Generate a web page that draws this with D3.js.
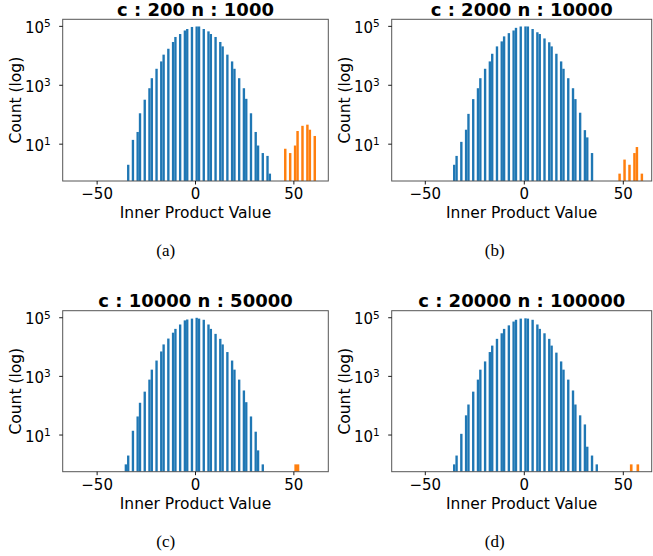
<!DOCTYPE html>
<html>
<head>
<meta charset="utf-8">
<script src="https://cdn.jsdelivr.net/npm/d3@7"></script>
<style>
  html, body { margin: 0; padding: 0; background: #fff; }
  svg { display: block; }
  text { font-family: "DejaVu Sans", sans-serif; fill: #000; }
</style>
</head>
<body>
<svg id="chart" width="653" height="556"></svg>
<script>
// ---------- data ----------
const panelTitles = ["c : 200 n : 1000", "c : 2000 n : 10000", "c : 10000 n : 50000", "c : 20000 n : 100000"];
const captions = ["(a)", "(b)", "(c)", "(d)"];
const xTickValues = [-50, 0, 50];
const yTickValues = [10, 1000, 100000];
const yTickExponents = ["1", "3", "5"];

// blue histogram: inner-product values (even integers) and counts
const aBlueValues = [-34,-32,-30,-28,-26,-24,-22,-20,-18,-16,-14,-12,-10,-8,-6,-4,-2,0,2,4,6,8,10,12,14,16,18,20,22,24,26,28,30,32,34,36,38];
const aBlueCounts = [2,14,26,112,324,794,1738,3631,6457,10965,17378,29512,43652,54954,72444,81283,95499,99000,99000,81283,67608,54954,43652,29512,20893,10965,6457,3631,1738,794,347,112,26,9,5,4,1];

const bBlueValues = [-36,-34,-32,-30,-28,-26,-24,-22,-20,-18,-16,-14,-12,-10,-8,-6,-4,-2,0,2,4,6,8,10,12,14,16,18,20,22,24,26,28,30,32,34];
const bBlueCounts = [2,4,12,31,107,339,794,1738,3631,6457,11749,20893,30903,45709,58884,72444,89125,99000,99500,99000,81283,63096,54954,38905,28840,20893,11749,6457,3631,1738,794,339,117,30,17,5];

const cBlueValues = [-36,-34,-32,-30,-28,-26,-24,-22,-20,-18,-16,-14,-12,-10,-8,-6,-4,-2,0,2,4,6,8,10,12,14,16,18,20,22,24,26,28,30,32,34];
const cBlueCounts = [1,2,14,43,126,302,776,1698,3467,7079,12303,19498,30903,41687,58884,81283,87096,93325,99500,93325,85114,58884,41687,28184,19055,12303,6761,3467,1698,776,331,132,43,13,3,1];

const dBlueValues = [-36,-34,-32,-30,-28,-26,-24,-22,-20,-18,-16,-14,-12,-10,-8,-6,-4,-2,0,2,4,6,8,10,12,14,16,18,20,22,24,26,28,30,32,34,36];
const dBlueCounts = [1,2,11,47,110,302,776,1698,3236,6761,11220,19055,29512,41687,54954,74131,85114,93325,95499,93325,85114,58884,41687,29512,19055,11220,6457,3236,1698,776,331,110,47,23,4,2,1];

// orange histogram: bin left edges and counts
const aOrangeEdges = [45, 47.5, 50, 51.25, 53.75, 56.25, 57.5, 60];
const aOrangeCounts = [7, 5, 9, 28, 42, 46, 31, 19];
const bOrangeEdges = [47.5, 50, 52.5, 55, 56.25, 58.75];
const bOrangeCounts = [1, 3, 2, 5, 8, 1];
const cOrangeEdges = [50.25];
const cOrangeCounts = [1];
const dOrangeEdges = [53.33, 56.67];
const dOrangeCounts = [1, 1];

const blueBinStart = -60, blueBinWidth = 1.2;
const orangeBinWidths = [1.25, 1.25, 2.5, 1.333];

// ---------- layout ----------
const blue = "#1f77b4", orange = "#ff7f0e";
const spineColor = "#555";
const layouts = [
  {left: 62.7,  right: 328.3, top: 19.3,  bottom: 181,   xDomain: [-67.5, 67.5]},
  {left: 391.7, right: 651.7, top: 19.3,  bottom: 181,   xDomain: [-66.97, 64.34]},
  {left: 62.7,  right: 328.3, top: 310.7, bottom: 471.7, xDomain: [-67.5, 67.5]},
  {left: 391.7, right: 651.7, top: 310.7, bottom: 471.7, xDomain: [-66.97, 64.34]}
];
const blueSets = [[aBlueValues, aBlueCounts], [bBlueValues, bBlueCounts], [cBlueValues, cBlueCounts], [dBlueValues, dBlueCounts]];
const orangeSets = [[aOrangeEdges, aOrangeCounts], [bOrangeEdges, bOrangeCounts], [cOrangeEdges, cOrangeCounts], [dOrangeEdges, dOrangeCounts]];

const svg = d3.select("#chart");
svg.append("rect").attr("width", 653).attr("height", 556).attr("fill", "#fff");

layouts.forEach((L, i) => {
  const g = svg.append("g");
  const x = d3.scaleLinear().domain(L.xDomain).range([L.left, L.right]);
  const y = d3.scaleLog().domain([Math.pow(10, -0.25), Math.pow(10, 5.24)]).range([L.bottom, L.top]);

  // blue bars (binned)
  const [vals, cnts] = blueSets[i];
  const blueBars = vals.map((v, j) => {
    const k = Math.floor((v - blueBinStart) / blueBinWidth + 1e-6);
    const lo = blueBinStart + k * blueBinWidth;
    return {lo: lo, hi: lo + blueBinWidth, c: cnts[j]};
  });
  g.selectAll("rect.blue").data(blueBars).enter().append("rect")
    .attr("class", "blue")
    .attr("x", d => x(d.lo))
    .attr("width", d => x(d.hi) - x(d.lo))
    .attr("y", d => y(d.c))
    .attr("height", d => L.bottom - y(d.c))
    .attr("fill", blue);

  // orange bars
  const [oe, oc] = orangeSets[i];
  const ow = orangeBinWidths[i];
  const orangeBars = oe.map((e, j) => ({lo: e, hi: e + ow, c: oc[j]}));
  g.selectAll("rect.orange").data(orangeBars).enter().append("rect")
    .attr("class", "orange")
    .attr("x", d => x(d.lo))
    .attr("width", d => x(d.hi) - x(d.lo))
    .attr("y", d => y(d.c))
    .attr("height", d => L.bottom - y(d.c))
    .attr("fill", orange);

  // frame
  g.append("rect")
    .attr("x", L.left).attr("y", L.top)
    .attr("width", L.right - L.left).attr("height", L.bottom - L.top)
    .attr("fill", "none").attr("stroke", spineColor).attr("stroke-width", 1);

  // x ticks
  xTickValues.forEach(t => {
    g.append("line").attr("x1", x(t)).attr("x2", x(t))
      .attr("y1", L.bottom).attr("y2", L.bottom + 3.5)
      .attr("stroke", "#000").attr("stroke-width", 0.9);
    g.append("text").attr("x", x(t)).attr("y", L.bottom + 18)
      .attr("text-anchor", "middle").attr("font-size", 15)
      .text(t < 0 ? "\u2212" + Math.abs(t) : String(t));
  });

  // y ticks
  yTickValues.forEach((t, j) => {
    g.append("line").attr("x1", L.left - 3.5).attr("x2", L.left)
      .attr("y1", y(t)).attr("y2", y(t))
      .attr("stroke", "#000").attr("stroke-width", 0.9);
    const tx = g.append("text").attr("x", L.left - 12).attr("y", y(t) + 6.5)
      .attr("text-anchor", "end").attr("font-size", 15);
    tx.append("tspan").text("10");
    tx.append("tspan").attr("font-size", 10.5).attr("dy", -5.5).text(yTickExponents[j]);
  });

  const cx = (L.left + L.right) / 2;
  // title
  g.append("text").attr("x", cx).attr("y", L.top - 3.5)
    .attr("text-anchor", "middle").attr("font-size", 18).attr("font-weight", "bold")
    .text(panelTitles[i]);
  // x label
  g.append("text").attr("x", cx).attr("y", L.bottom + 37)
    .attr("text-anchor", "middle").attr("font-size", 15.5)
    .text("Inner Product Value");
  // y label
  const ly = (L.top + L.bottom) / 2;
  const lx = L.left - 42;
  g.append("text").attr("transform", `translate(${lx},${ly}) rotate(-90)`)
    .attr("text-anchor", "middle").attr("font-size", 15.5)
    .text("Count (log)");
  // caption
  g.append("text").attr("x", L.left + 103).attr("y", L.bottom + 75)
    .attr("text-anchor", "middle").attr("font-size", 17)
    .style("font-family", "'Liberation Serif', 'Times New Roman', serif")
    .text(captions[i]);
});
</script>
</body>
</html>
